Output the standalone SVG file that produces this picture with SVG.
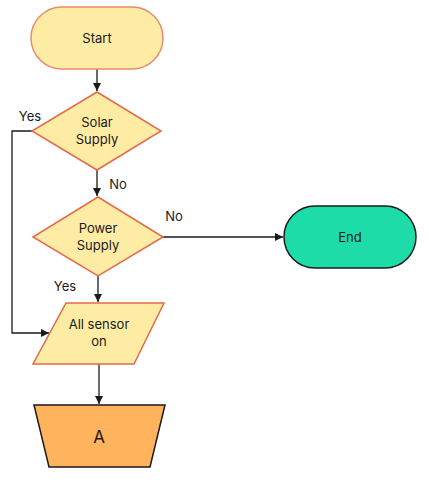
<svg xmlns="http://www.w3.org/2000/svg" width="429" height="480" viewBox="0 0 429 480">
<defs>
<marker id="ah" viewBox="0 0 10 10" refX="10" refY="5" markerWidth="8" markerHeight="8" markerUnits="userSpaceOnUse" orient="auto">
<path d="M0,0 L10,5 L0,10 z" fill="#1a1a1a"/>
</marker>
<style>
.t{font-family:Inter,"Liberation Sans",sans-serif;font-size:13px;fill:#1a1a1a;text-anchor:middle;dominant-baseline:central}
.y{fill:#ffeca4;stroke:#e26a4a;stroke-width:1.5}
.c{fill:none;stroke:#1a1a1a;stroke-width:1.3}
</style>
</defs>
<rect width="429" height="480" fill="#ffffff"/>
<g id="connectors">
<line class="c" x1="97" y1="69" x2="97" y2="91" marker-end="url(#ah)"/>
<line class="c" x1="97" y1="170" x2="97" y2="196" marker-end="url(#ah)"/>
<line class="c" x1="163" y1="237" x2="283" y2="237" marker-end="url(#ah)"/>
<line class="c" x1="98" y1="276" x2="98" y2="302" marker-end="url(#ah)"/>
<polyline class="c" points="32,131 12,131 12,333 49,333" marker-end="url(#ah)"/>
<line class="c" x1="99" y1="364" x2="99" y2="404" marker-end="url(#ah)"/>
<text class="t" x="30" y="116">Yes</text>
<text class="t" x="118" y="184">No</text>
<text class="t" x="174" y="216">No</text>
<text class="t" x="65" y="286">Yes</text>
</g>
<g id="start">
<rect class="y" x="31" y="7" width="132" height="62" rx="31" ry="31" style="stroke:#e98a6e"/>
<text class="t" x="97" y="38">Start</text>
</g>
<g id="solar">
<polygon class="y" points="97,92 161,131 97,170 32,131"/>
<text class="t" x="97" y="122">Solar</text>
<text class="t" x="97" y="139">Supply</text>
</g>
<g id="power">
<polygon class="y" points="98,197 163,237 98,276 33,237"/>
<text class="t" x="98" y="228">Power</text>
<text class="t" x="98" y="245">Supply</text>
</g>
<g id="end">
<rect x="284" y="206" width="132" height="62" rx="31" ry="31" fill="#1ddca8" stroke="#1a1a1a" stroke-width="1.5"/>
<text class="t" x="350" y="237">End</text>
</g>
<g id="sensor">
<polygon class="y" points="66,303 164,303 134,364 33,364"/>
<text class="t" x="99" y="324">All sensor</text>
<text class="t" x="99" y="341">on</text>
</g>
<g id="a">
<polygon points="34,405 165,405 150,467 49,467" fill="#ffb35c" stroke="#1a1a1a" stroke-width="1.5"/>
<text class="t" x="99" y="437" style="font-size:17px">A</text>
</g>
</svg>
